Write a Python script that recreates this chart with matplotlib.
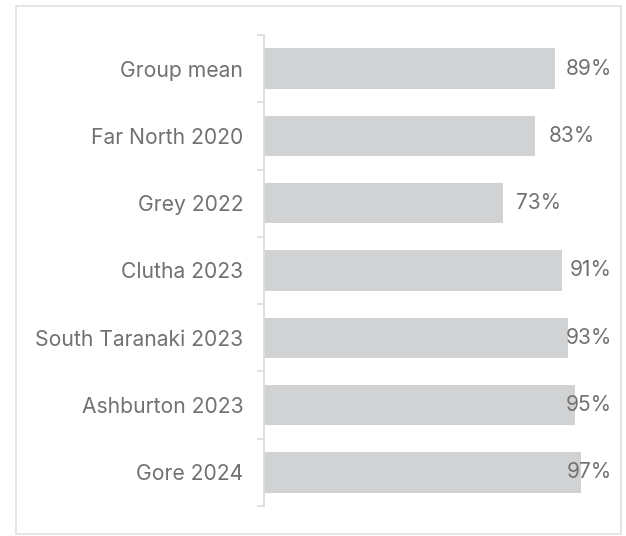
import matplotlib
matplotlib.use("Agg")
import matplotlib.pyplot as plt
from matplotlib.patches import Rectangle

plt.rcParams['font.family'] = ['Inter', 'DejaVu Sans']

# data
names = ["Group mean", "Far North 2020", "Grey 2022", "Clutha 2023",
         "South Taranaki 2023", "Ashburton 2023", "Gore 2024"]
values = [89, 83, 73, 91, 93, 95, 97]

W, H = 626, 536
fig = plt.figure(figsize=(W / 100, H / 100), dpi=100)
ax = fig.add_axes([264 / W, 30 / H, 327 / W, 471 / H])

txt_col = "#717171"
bar_col = "#d1d2d4"
line_col = "#dcdcdc"

pos = list(range(len(names)))
ax.barh(pos, values, height=0.6, color=bar_col)
ax.set_xlim(0, 100)
ax.set_ylim(len(names) - 0.5, -0.5)

# ticks at the band edges, labels at the centres
ax.set_yticks([p - 0.5 for p in pos] + [len(names) - 0.5])
ax.set_yticklabels([])
ax.set_yticks(pos, minor=True)
ax.set_yticklabels(names, minor=True, fontsize=15.2, color=txt_col)
ax.tick_params(axis="y", which="major", length=5, width=1.2, color=line_col)
ax.tick_params(axis="y", which="minor", length=0, pad=15)
ax.set_xticks([])

for s in ["top", "right", "bottom"]:
    ax.spines[s].set_visible(False)
ax.spines["left"].set_color(line_col)
ax.spines["left"].set_linewidth(1.3)

# value labels, kept inside the box
fig.canvas.draw()
r = fig.canvas.get_renderer()
right_px = 612
for p, v in zip(pos, values):
    t = ax.annotate(f"{v}%", (v, p), xytext=(9.5, 0), textcoords="offset points",
                    va="center", ha="left", fontsize=15, color=txt_col)
    bb = t.get_window_extent(r)
    if bb.x1 > right_px:
        t.remove()
        xd = ax.transData.inverted().transform((right_px, 0))[0]
        ax.text(xd, p, f"{v}%", va="center", ha="right", fontsize=15, color=txt_col)

fig.patches.append(Rectangle((16 / W, 2 / H), 605 / W, 528 / H, transform=fig.transFigure,
                             fill=False, edgecolor="#e0e0e0", linewidth=1.2))

fig.savefig("out.png", dpi=100)
